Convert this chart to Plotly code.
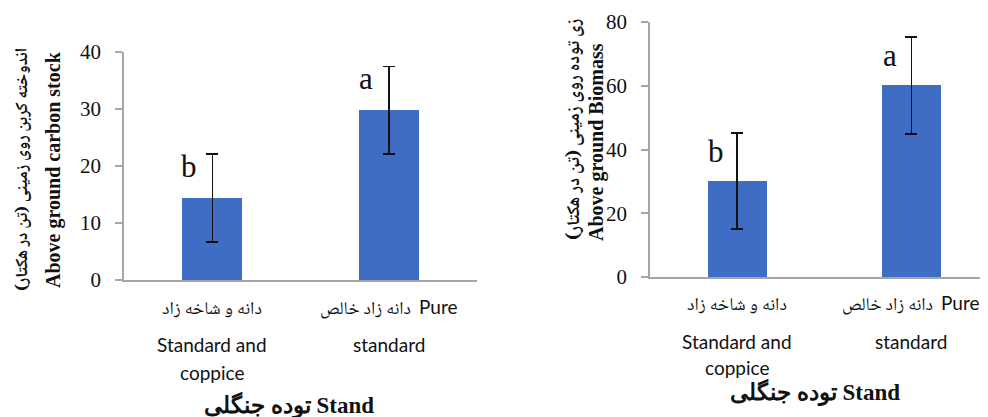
import plotly.graph_objects as go

# ---- data ----
categories = ["Standard and coppice", "Pure standard"]
carbon_mean = [14.4, 29.8]
carbon_err = [7.7, 7.7]
biomass_mean = [30.1, 60.1]
biomass_err = [15.1, 15.2]
letters = ["b", "a"]

cat_fa = ["دانه و شاخه زاد", "دانه زاد خالص"]
cat_fa_en = ["", "Pure"]
cat_en_line1 = ["Standard and", "standard"]
cat_en_line2 = ["coppice", ""]

ytitle_fa_left = "اندوخته کربن روی زمینی (تن در هکتار)\u200f"
ytitle_en_left = "Above ground carbon stock"
ytitle_fa_right = "زی توده روی زمینی (تن در هکتار)\u200f"
ytitle_en_right = "Above ground Biomass"
xtitle_fa = "توده جنگلی"
xtitle_en = "Stand"

W, H = 988, 417
OFF = 8  # page body margin offset
BAR = "#3F6DC6"
AXIS = "#A6A6A6"
SERIF = "Liberation Serif, Times New Roman, serif"
SANS = "Lato, Carlito, Open Sans, sans-serif"
FA = "Noto Naskh Arabic, Noto Sans Arabic, DejaVu Sans, sans-serif"

xs = [0, 1]

def PX(x):
    return (x - OFF) / W

def PY(y):
    return (H - (y - OFF)) / H

fig = go.Figure()

fig.add_trace(go.Bar(
    x=xs, y=carbon_mean, width=0.34, marker=dict(color=BAR, line=dict(width=0)),
    error_y=dict(type="data", array=carbon_err, color="#111111", thickness=1.5, width=6),
    xaxis="x", yaxis="y", showlegend=False,
))
fig.add_trace(go.Bar(
    x=xs, y=biomass_mean, width=0.34, marker=dict(color=BAR, line=dict(width=0)),
    error_y=dict(type="data", array=biomass_err, color="#111111", thickness=1.5, width=6),
    xaxis="x2", yaxis="y2", showlegend=False,
))

L_x0, L_x1, L_y0, L_y1 = 124, 477, 280, 52
R_x0, R_x1, R_y0, R_y1 = 650, 983, 277, 22

axis_common = dict(showline=True, linecolor=AXIS, linewidth=1.5, showgrid=False, zeroline=False,
                   automargin=False)

fig.update_layout(
    width=W, height=H, autosize=False,
    margin=dict(l=0, r=0, t=0, b=0, pad=0, autoexpand=False),
    paper_bgcolor="white", plot_bgcolor="white",
    showlegend=False,
    xaxis=dict(domain=[PX(L_x0), PX(L_x1)], range=[-0.5, 1.5], showticklabels=False, ticks="",
               anchor="y", **axis_common),
    yaxis=dict(domain=[PY(L_y0), PY(L_y1)], range=[0, 40], dtick=10, ticks="outside", ticklen=7,
               tickcolor=AXIS, tickwidth=1.5, ticklabelstandoff=10,
               tickfont=dict(family=SERIF, size=21, color="#111111"), anchor="x", **axis_common),
    xaxis2=dict(domain=[PX(R_x0), PX(R_x1)], range=[-0.5, 1.411], showticklabels=False, ticks="",
                anchor="y2", **axis_common),
    yaxis2=dict(domain=[PY(R_y0), PY(R_y1)], range=[0, 80], dtick=20, ticks="outside", ticklen=7,
                tickcolor=AXIS, tickwidth=1.5, ticklabelstandoff=10,
                tickfont=dict(family=SERIF, size=21, color="#111111"), anchor="x2", **axis_common),
    bargap=0,
)

ann = []

for i in range(2):
    ann.append(dict(x=xs[i], y=carbon_mean[i] + carbon_err[i], xref="x", yref="y", text=letters[i],
                    showarrow=False, xshift=-23, yshift=-12, xanchor="center", yanchor="middle",
                    font=dict(family=SERIF, size=31, color="#111111")))
    ann.append(dict(x=xs[i], y=biomass_mean[i] + biomass_err[i], xref="x2", yref="y2", text=letters[i],
                    showarrow=False, xshift=-21, yshift=-19, xanchor="center", yanchor="middle",
                    font=dict(family=SERIF, size=31, color="#111111")))

def cat_labels(xref, ys):
    out = []
    for i in range(2):
        t = cat_fa[i]
        if cat_fa_en[i]:
            t += "  <span style='font-family:Lato, sans-serif; font-size:19px'>" + cat_fa_en[i] + "</span>"
        out.append(dict(x=xs[i], y=PY(ys[0]), xref=xref, yref="paper", text=t, showarrow=False,
                        xanchor="center", yanchor="middle", font=dict(family=FA, size=18, color="#111111")))
        out.append(dict(x=xs[i], y=PY(ys[1]), xref=xref, yref="paper", text=cat_en_line1[i], showarrow=False,
                        xanchor="center", yanchor="middle", font=dict(family=SANS, size=19, color="#111111")))
        if cat_en_line2[i]:
            out.append(dict(x=xs[i], y=PY(ys[2]), xref=xref, yref="paper", text=cat_en_line2[i], showarrow=False,
                            xanchor="center", yanchor="middle", font=dict(family=SANS, size=19, color="#111111")))
    return out

ann += cat_labels("x", [310, 344, 372])
ann += cat_labels("x2", [306, 341, 367])

xtitle = xtitle_fa + " <span style='font-family:Liberation Serif, serif'>" + xtitle_en + "</span>"
ann.append(dict(x=PX(289), y=PY(405), xref="paper", yref="paper", text=xtitle,
                showarrow=False, xanchor="center", yanchor="middle",
                font=dict(family=SERIF, size=23, color="#111111", weight="bold")))
ann.append(dict(x=PX(815), y=PY(392), xref="paper", yref="paper", text=xtitle,
                showarrow=False, xanchor="center", yanchor="middle",
                font=dict(family=SERIF, size=23, color="#111111", weight="bold")))

ann.append(dict(x=PX(23), y=PY(170), xref="paper", yref="paper", text=ytitle_fa_left,
                textangle=-90, showarrow=False, xanchor="center", yanchor="middle",
                font=dict(family=FA, size=17, color="#111111", weight="bold")))
ann.append(dict(x=PX(53), y=PY(170), xref="paper", yref="paper", text=ytitle_en_left,
                textangle=-90, showarrow=False, xanchor="center", yanchor="middle",
                font=dict(family=SERIF, size=20, color="#111111", weight="bold")))
ann.append(dict(x=PX(575), y=PY(129), xref="paper", yref="paper", text=ytitle_fa_right,
                textangle=-90, showarrow=False, xanchor="center", yanchor="middle",
                font=dict(family=FA, size=18, color="#111111", weight="bold")))
ann.append(dict(x=PX(596), y=PY(142), xref="paper", yref="paper", text=ytitle_en_right,
                textangle=-90, showarrow=False, xanchor="center", yanchor="middle",
                font=dict(family=SERIF, size=20, color="#111111", weight="bold")))

fig.update_layout(annotations=ann)
fig.write_html("out.html")
